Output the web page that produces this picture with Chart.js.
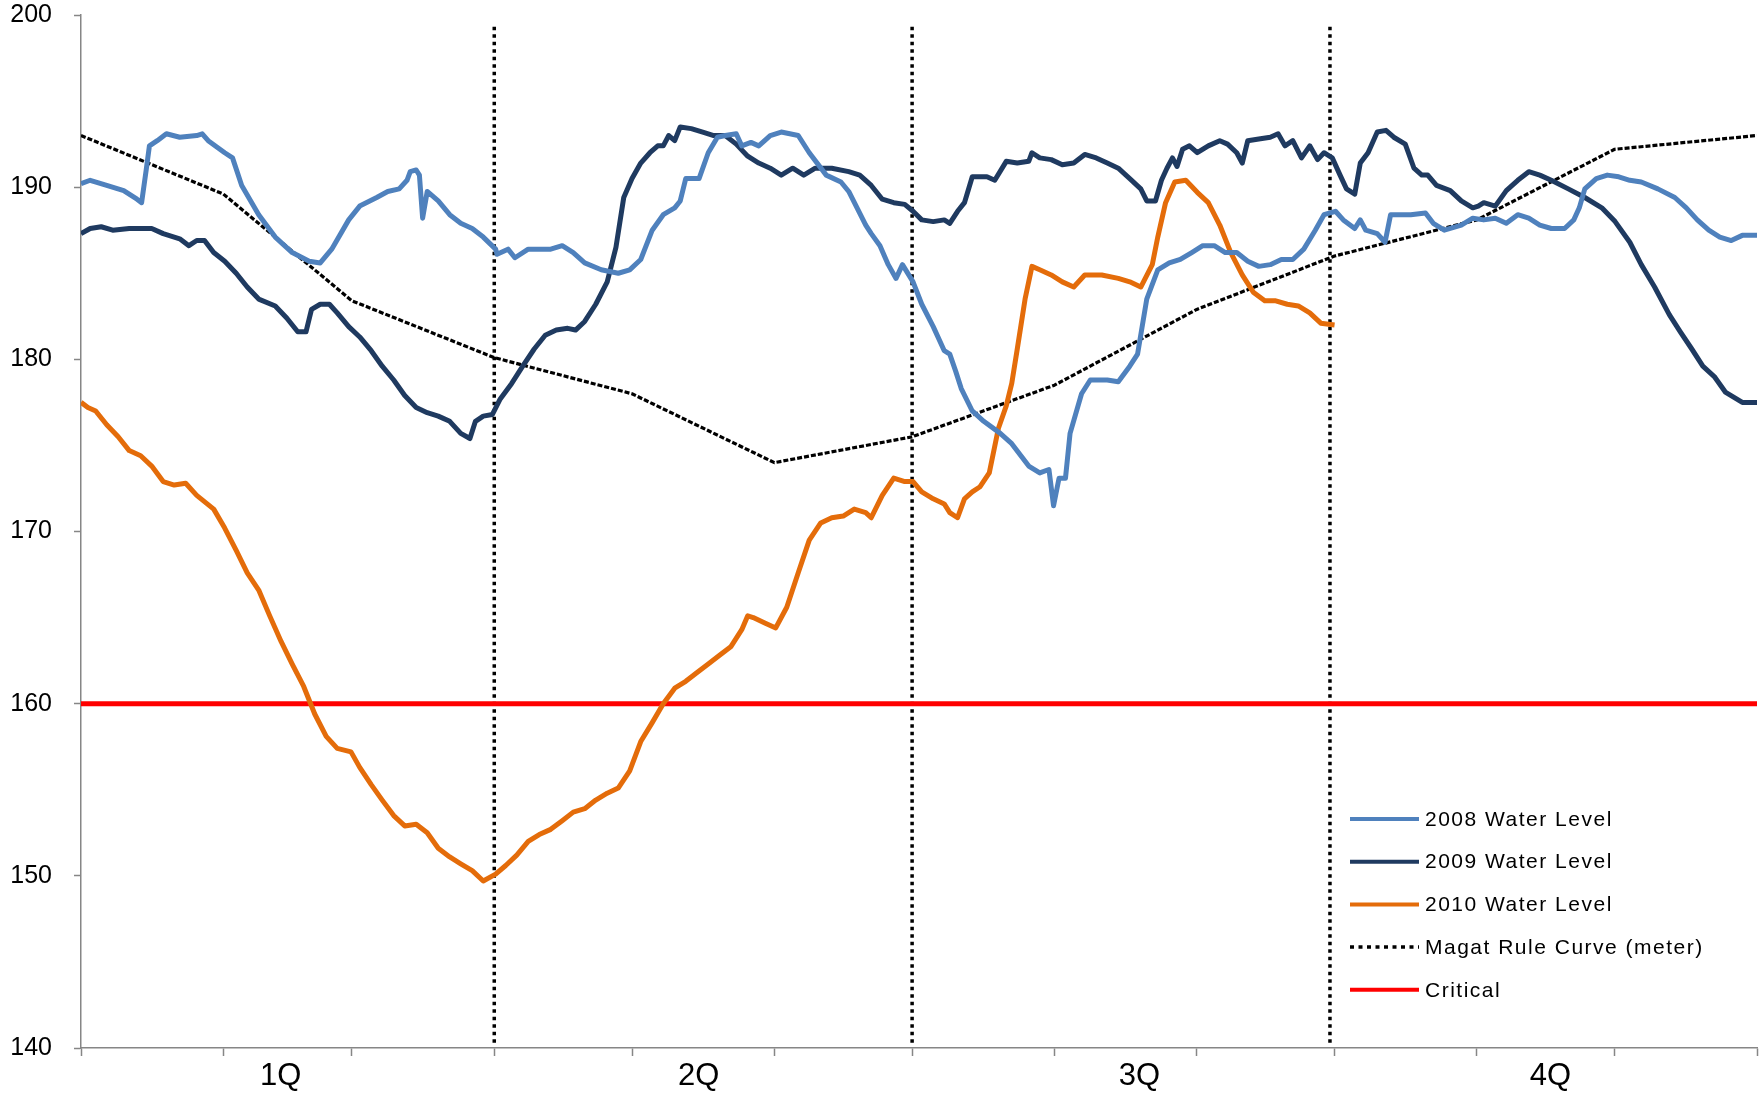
<!DOCTYPE html>
<html lang="en">
<head>
<meta charset="UTF-8">
<title>Magat Water Level</title>
<script src="https://cdn.jsdelivr.net/npm/chart.js"></script>
<style>
  body { margin: 0; background: #fff; }
  #chart { display: block; }
</style>
</head>
<body>
<canvas id="chart" width="1763" height="1093"></canvas>
<script>
// day of year (0-365) and level (m)
const days2008 = [0,2,5.6,9.3,12.2,13.2,14.2,14.9,16.6,18.6,21.5,25.2,26.4,27.7,31.3,33,35,38.7,42.3,46,49.7,52.1,54.6,58.3,60.7,64.4,66.8,69.3,71,71.7,73,73.7,74.4,75.4,77.8,80.3,82.7,85.2,87.6,90.3,90.6,93,94.5,97.4,102.3,104.8,107.2,109.7,113.3,117,119.5,121.9,124.4,126.8,129.3,130.5,131.7,134.6,136.6,138.6,140.3,142.7,143.9,145.9,147.6,150.1,152.5,156.2,158.6,162.3,165.5,167.2,170.9,172.1,174,175.8,177.5,178.9,181.2,183.1,185.6,188,189.2,190.5,191.7,194.1,196.6,200.2,202.7,206.4,208.8,210.8,211.8,213,214.4,215.4,217.9,219.8,223.5,225.9,228.4,230.1,232.1,234.5,237,239.4,241.9,244.3,246.8,249.2,251.7,254.1,256.5,259,261.4,263.9,266.3,268.8,270.7,273.2,274.9,277.4,278.6,279.8,282.3,284,285.2,289.6,292.8,294.5,296.9,300.6,303.1,305.5,308,310.4,312.9,315.3,317.7,320.2,323.1,325.1,326.3,327.5,330,332.4,334.9,337.3,339.8,343.4,347.1,349.6,352,354.5,356.9,359.4,361.8,365];
const level2008 = [190.2,190.4,190.1,189.8,189.3,189.1,191.0,192.4,192.7,193.1,192.9,193.0,193.1,192.7,192.0,191.7,190.1,188.4,187.1,186.2,185.7,185.6,186.4,188.1,188.9,189.4,189.75,189.9,190.4,190.9,191.0,190.7,188.2,189.75,189.2,188.4,187.9,187.6,187.1,186.4,186.1,186.4,185.9,186.4,186.4,186.6,186.2,185.6,185.2,185.0,185.2,185.8,187.5,188.4,188.8,189.2,190.5,190.5,192.0,192.9,193.0,193.1,192.4,192.6,192.4,193.0,193.2,193.0,192.0,190.7,190.3,189.75,187.8,187.3,186.6,185.5,184.7,185.5,184.5,183.2,181.9,180.5,180.3,179.3,178.3,177.0,176.4,175.7,175.1,173.8,173.4,173.6,171.5,173.1,173.1,175.7,178.0,178.8,178.8,178.7,179.6,180.3,183.5,185.2,185.6,185.8,186.2,186.6,186.6,186.2,186.2,185.7,185.4,185.5,185.8,185.8,186.4,187.5,188.4,188.6,188.1,187.6,188.1,187.5,187.3,186.8,188.4,188.4,188.5,187.9,187.5,187.8,188.2,188.1,188.2,187.9,188.4,188.2,187.8,187.6,187.6,188.1,188.8,189.9,190.5,190.7,190.6,190.4,190.3,189.9,189.4,188.8,188.1,187.5,187.1,186.9,187.2,187.2];

const days2009 = [0,2,4.4,6.9,10.5,15.4,17.9,21.5,23.5,25.2,26.9,28.9,31.3,33.8,36.2,38.7,42.3,44.8,47.2,49,50.2,52.1,54.1,55.8,58.3,60.7,63.2,65.6,68.1,70.5,73,75.4,77.8,80.3,82.7,84.7,85.9,87.6,89.6,91.3,93.8,96.2,98.7,101.1,103.5,106,107.7,109.7,112.1,114.6,116.5,118.2,120,121.9,123.9,125.6,126.8,128,129.3,130.5,132.9,135.4,137.8,140.3,142.7,145.2,147.6,150.1,152.5,155,157.4,159.9,163.5,167.2,169.6,172.1,174.5,177,179.4,181.2,183.1,185.6,188,189.2,190.9,192.4,194.1,197.3,199,201.5,203.9,206.4,207.1,208.8,211.3,213.7,216.2,218.6,221.1,223.5,225.9,228.4,230.8,232.1,234,235.3,236.5,237.7,238.7,239.9,241.4,243.1,245.5,248,249.7,251.7,252.9,254.1,256.5,259,260.7,262.2,263.9,265.8,267.6,269.3,270.7,272.5,274.2,275.6,277.4,278.6,280.3,282.3,284.2,285.9,288.4,290.3,292,293.3,295.2,298.2,300.6,303.1,304.3,305.5,308,310.4,312.9,315.3,317.7,320.2,323.9,327.5,331.2,334.1,337.3,339.8,342.7,345.9,348.3,350.8,353.2,355.7,358.1,361.8,365];
const level2009 = [187.3,187.6,187.7,187.5,187.6,187.6,187.3,187.0,186.6,186.9,186.9,186.2,185.7,185.0,184.2,183.5,183.1,182.4,181.6,181.6,182.9,183.2,183.2,182.7,181.9,181.3,180.5,179.6,178.8,177.9,177.2,176.9,176.7,176.4,175.7,175.4,176.4,176.7,176.8,177.7,178.6,179.6,180.6,181.4,181.7,181.8,181.7,182.2,183.2,184.5,186.5,189.4,190.5,191.4,192.0,192.4,192.4,193.0,192.7,193.5,193.4,193.2,193.0,193.0,192.5,191.8,191.4,191.1,190.7,191.1,190.7,191.1,191.1,190.9,190.7,190.1,189.3,189.1,189.0,188.6,188.1,188.0,188.1,187.9,188.6,189.1,190.6,190.6,190.4,191.5,191.4,191.5,192.0,191.7,191.6,191.3,191.4,191.9,191.7,191.4,191.1,190.5,189.9,189.2,189.2,190.4,191.1,191.7,191.2,192.2,192.4,192.0,192.4,192.7,192.5,192.0,191.4,192.7,192.8,192.9,193.1,192.4,192.7,191.7,192.4,191.6,192.0,191.7,190.7,189.9,189.6,191.4,192.0,193.2,193.3,192.9,192.5,191.1,190.7,190.7,190.1,189.8,189.2,188.8,188.9,189.1,188.9,189.8,190.4,190.9,190.7,190.4,189.9,189.4,188.8,188.0,186.8,185.5,184.2,182.6,181.6,180.6,179.6,179.0,178.1,177.5,177.5];

const days2010 = [0,1.5,3.2,5.6,8.1,10.5,13,15.4,17.9,20.3,22.8,25.2,28.9,31.3,33.8,36.2,38.7,41.1,43.6,46,48.5,50.9,53.4,55.8,58.8,60.7,63.2,65.6,68.1,70.5,73,75.4,77.8,80.3,82.7,85.2,87.6,90.3,92.5,94.9,97.4,99.8,102.3,104.8,107.2,109.7,112.1,114.6,117,119.5,121.9,124.4,126.8,129.3,131.7,134.1,136.6,139,141.5,143.9,145.2,146.4,148.8,151.3,153.7,156.2,158.6,161.1,163.5,166,168.4,170.9,172.1,174.5,177,179.4,181.2,183.1,185.6,188,189.2,190.9,192.4,194.1,195.8,197.8,199.8,201.5,202.7,203.9,205.6,207.1,208.8,211.3,213.7,216.2,218.6,222.3,225.9,228.4,230.8,233.3,234.5,236.2,238.2,240.6,243.1,245.5,248,250.4,252.9,255.3,257.8,260.2,262.7,265.1,267.6,270,273];
const level2010 = [177.5,177.2,177.0,176.2,175.5,174.7,174.4,173.8,172.9,172.7,172.8,172.1,171.3,170.2,168.9,167.6,166.6,165.1,163.6,162.3,161.0,159.4,158.1,157.4,157.2,156.3,155.3,154.4,153.5,152.9,153.0,152.5,151.6,151.1,150.7,150.3,149.7,150.1,150.6,151.2,152.0,152.4,152.7,153.2,153.7,153.9,154.4,154.8,155.1,156.1,157.8,158.9,160.0,160.9,161.3,161.8,162.3,162.8,163.3,164.3,165.1,165.0,164.7,164.4,165.6,167.6,169.5,170.5,170.8,170.9,171.3,171.1,170.8,172.1,173.1,172.9,172.9,172.3,171.9,171.6,171.1,170.8,171.9,172.3,172.6,173.4,176.0,177.3,178.6,180.6,183.5,185.4,185.2,184.9,184.5,184.2,184.9,184.9,184.7,184.5,184.2,185.5,187.1,189.1,190.3,190.4,189.7,189.1,187.8,186.2,184.9,183.9,183.4,183.4,183.2,183.1,182.7,182.1,182.0];

const ruleDays = [0,31,59,90,120,151,181,212,243,273,304,334,365];
const ruleLevel = [193.0,189.6,183.4,180.1,178.0,174.0,175.5,178.5,182.9,186.0,188.1,192.2,193.0];

const criticalDays = [0,365];
const criticalLevel = [160,160];

const quarterDays = [90,181,272];   // dotted dividers
const monthDays = [0,31,59,90,120,151,181,212,243,273,304,334,365];
const quarterLabelDays = [43.5,134.5,230.5,320];
const quarterLabels = ['1Q','2Q','3Q','4Q'];

const seriesNames = ['2008 Water Level','2009 Water Level','2010 Water Level','Magat Rule Curve (meter)','Critical'];

function pts(xs, ys) {
  return xs.map((x, i) => ({ x: x, y: ys[i] }));
}

const datasets = [
  { label: seriesNames[0], data: pts(days2008, level2008), borderColor: '#4F81BD', borderWidth: 5 },
  { label: seriesNames[1], data: pts(days2009, level2009), borderColor: '#1F3A60', borderWidth: 5 },
  { label: seriesNames[2], data: pts(days2010, level2010), borderColor: '#E46C0A', borderWidth: 5 },
  { label: seriesNames[3], data: pts(ruleDays, ruleLevel), borderColor: '#000', borderWidth: 3.2, borderDash: [5, 2] },
  { label: seriesNames[4], data: pts(criticalDays, criticalLevel), borderColor: '#FF0000', borderWidth: 5 }
];
quarterDays.forEach(d => {
  datasets.push({ label: '', data: [{ x: d, y: 140.3 }, { x: d, y: 199.5 }], borderColor: '#000', borderWidth: 3.5, borderDash: [3.5, 4] });
});

// legend drawn inside the plot, lower right
const boxLegend = {
  id: 'boxLegend',
  afterDraw(chart) {
    const ctx = chart.ctx;
    const area = chart.chartArea;
    const x0 = area.right - 407, y0 = area.bottom - 229;
    ctx.save();
    ctx.font = '21px Arial, "Liberation Sans", sans-serif';
    ctx.letterSpacing = '1.5px';
    ctx.textBaseline = 'middle';
    ctx.fillStyle = '#000';
    for (let i = 0; i < 5; i++) {
      const ds = chart.data.datasets[i];
      const y = y0 + i * 42.7;
      ctx.beginPath();
      ctx.strokeStyle = ds.borderColor;
      ctx.lineWidth = i === 3 ? 3.5 : 4;
      ctx.setLineDash(i === 3 ? [4, 4.5] : []);
      ctx.moveTo(x0, y);
      ctx.lineTo(x0 + 69, y);
      ctx.stroke();
      ctx.setLineDash([]);
      ctx.fillText(ds.label, x0 + 75, y + 1);
    }
    ctx.restore();
  }
};

new Chart(document.getElementById('chart'), {
  type: 'line',
  data: { datasets: datasets },
  options: {
    responsive: false,
    animation: false,
    devicePixelRatio: 1,
    layout: { padding: { top: 15, right: 6, left: 0, bottom: 0 } },
    elements: { point: { radius: 0 }, line: { tension: 0, fill: false, borderCapStyle: 'butt', borderJoinStyle: 'round' } },
    plugins: { legend: { display: false }, tooltip: { enabled: false } },
    scales: {
      x: {
        type: 'linear',
        min: 0,
        max: 365,
        afterBuildTicks: axis => {
          axis.ticks = monthDays.concat(quarterLabelDays).sort((a, b) => a - b).map(v => ({ value: v }));
        },
        afterFit: s => { s.height = 45; },
        grid: {
          drawOnChartArea: false,
          tickLength: 8,
          tickWidth: 1.5,
          tickColor: c => quarterLabelDays.includes(c.tick && c.tick.value) ? 'rgba(0,0,0,0)' : '#868686'
        },
        border: { color: '#868686', width: 1.5 },
        ticks: {
          autoSkip: false,
          maxRotation: 0,
          padding: 2,
          color: '#000',
          font: { family: 'Arial, "Liberation Sans", sans-serif', size: 31 },
          callback: v => {
            const k = quarterLabelDays.indexOf(v);
            return k >= 0 ? quarterLabels[k] : '';
          }
        }
      },
      y: {
        min: 140,
        max: 200,
        afterFit: s => { s.width = 81; s.paddingTop = 0; s.paddingBottom = 0; },
        grid: { drawOnChartArea: false, tickLength: 7, tickWidth: 1.5, tickColor: '#868686' },
        border: { color: '#868686', width: 1.5 },
        ticks: {
          stepSize: 10,
          padding: 22,
          color: '#000',
          font: { family: 'Arial, "Liberation Sans", sans-serif', size: 25, lineHeight: 1 }
        }
      }
    }
  },
  plugins: [boxLegend]
});
</script>
</body>
</html>
